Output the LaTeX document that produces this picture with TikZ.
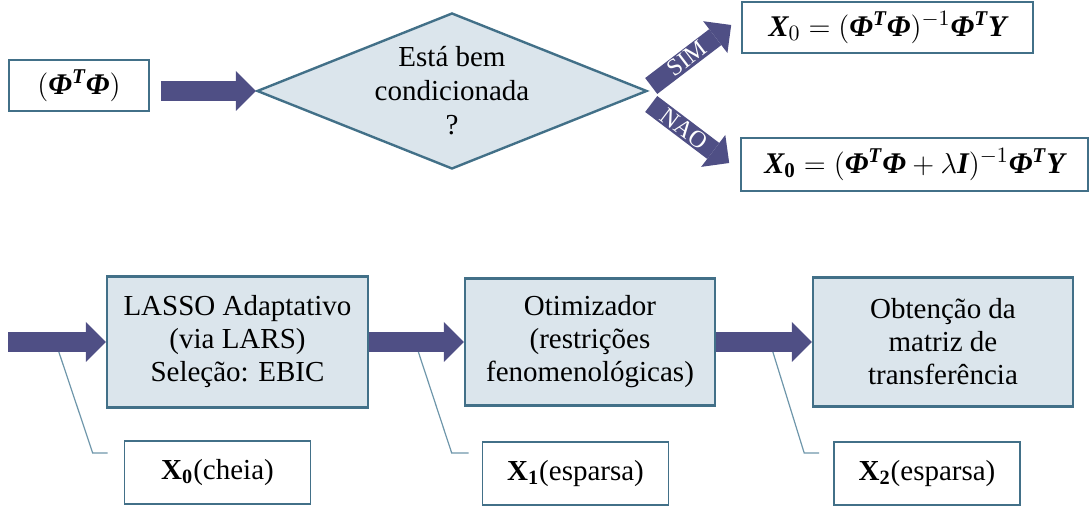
\documentclass[tikz,border=0pt]{standalone}
\usepackage{amsmath}
\usepackage{fontspec}
\setmainfont{Liberation Serif}
\usetikzlibrary{shapes.geometric,arrows.meta,calc}
\definecolor{corseta}{RGB}{79,79,133}
\definecolor{corcaixa}{RGB}{219,229,236}
\definecolor{corborda}{RGB}{66,112,136}
\definecolor{corfio}{RGB}{110,150,170}
\newcommand{\bi}[1]{\text{\bfseries\itshape #1}}
\tikzset{every picture/.style={line width=0.75pt}}
\tikzset{
	bloco/.style={draw=corborda,fill=corcaixa,line width=1.2pt,align=center,inner sep=2pt,font=\fontsize{14.5}{16.5}\selectfont},
	rotulo/.style={draw=corborda,fill=white,line width=0.8pt,align=center,minimum width=93pt,minimum height=31.5pt,font=\fontsize{14.5}{16.5}\selectfont},
	formula/.style={draw=corborda,fill=white,line width=0.8pt,minimum height=25.5pt,font=\fontsize{15}{16}\selectfont},
	decisao/.style={diamond,draw=corborda,fill=corcaixa,line width=1.2pt,aspect=2.5,inner sep=1pt,align=center,font=\fontsize{14.5}{17}\selectfont},
	seta/.style={draw=corseta,line width=10pt,-{Triangle[width=20pt,length=10pt,line width=0pt]}},
	fio/.style={draw=corfio,line width=0.6pt},
	sim/.style={sloped,text=white,inner sep=0pt,font=\fontsize{12}{12}\selectfont},
}

\begin{document}
\begin{tikzpicture}[x=0.5pt,y=-0.5pt]
	\useasboundingbox (0,0) rectangle (1089,506);
	% parte de cima
	\node[formula,minimum width=70pt] (phi) at (79,85.5) {$(\bi{Φ}^{\bi{T}}\bi{Φ})$}; %entrada
	\node[decisao] (q) at (452,91) {Está bem\\condicionada\\?}; %teste
	\node[formula,minimum width=145.5pt] (f1) at (887.5,27.5) {$\bi{X}_0=(\bi{Φ}^{\bi{T}}\bi{Φ})^{-1}\bi{Φ}^{\bi{T}}\bi{Y}$};
	\node[formula,minimum width=173.5pt,minimum height=26.5pt] (f2) at (914.5,164.5) {$\bi{X}_{\mathbf{0}}=(\bi{Φ}^{\bi{T}}\bi{Φ}+\lambda\bi{I})^{-1}\bi{Φ}^{\bi{T}}\bi{Y}$};
	\draw[seta] ([xshift=5.5pt]phi.east |- q.west) -- (q.west);
	\draw[seta] ([shift={(3,-5)}]q.east) -- node[sim,pos=0.45]{SIM} ([shift={(-10,-2.5)}]f1.west);
	\draw[seta] ([shift={(3,13)}]q.east) -- node[sim,pos=0.42]{NAO} ([shift={(-11,-1.5)}]f2.west);
	% parte de baixo
	\node[bloco,minimum width=130.5pt,minimum height=65.5pt] (b1) at (237.5,342) {LASSO Adaptativo\\(via LARS)\\Seleção: EBIC};
	\node[bloco,minimum width=125pt,minimum height=63.5pt] (b2) at (590,342) {Otimizador\\(restrições\\fenomenológicas)};
	\node[bloco,minimum width=130pt,minimum height=64.5pt] (b3) at (943,342) {Obtenção da\\matriz de\\transferência};
	\node[rotulo] (l0) at (217.5,472.5) {\textbf{X}\textsubscript{\textbf{0}}(cheia)};
	\node[rotulo] (l1) at (575.5,473.5) {\textbf{X}\textsubscript{\textbf{1}}(esparsa)};
	\node[rotulo] (l2) at (927,473.5) {\textbf{X}\textsubscript{\textbf{2}}(esparsa)};
	\coordinate (ini) at (8,342);
	\coordinate (c0) at ([yshift=-5pt]$(ini)!0.52!(b1.west)$);
	\coordinate (c1) at ([yshift=-5pt]$(b1.east)!0.52!(b2.west)$);
	\coordinate (c2) at ([yshift=-3pt]$(b2.east)!0.58!(b3.west)$);
	\draw[fio] (c0) -- ([shift={(-31,-19.5)}]l0.west) -- ([shift={(-16,-19.5)}]l0.west);
	\draw[fio] (c1) -- ([shift={(-30,-20.5)}]l1.west) -- ([shift={(-13,-20.5)}]l1.west);
	\draw[fio] (c2) -- ([shift={(-29,-20.5)}]l2.west) -- ([shift={(-14,-20.5)}]l2.west);
	\draw[seta] (ini) -- (b1.west);
	\draw[seta] (b1.east) -- (b2.west);
	\draw[seta] (b2.east) -- (b3.west);
\end{tikzpicture}
\end{document}
